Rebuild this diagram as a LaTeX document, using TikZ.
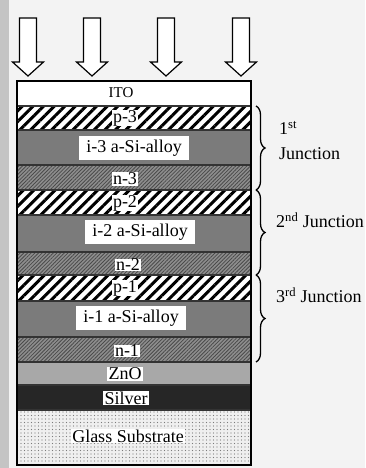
\documentclass[tikz,border=0pt]{standalone}
\usepackage{fontspec}
\setmainfont{Liberation Serif}
\usetikzlibrary{patterns.meta,decorations.pathreplacing}
\definecolor{bgc}{HTML}{F3F3F3}
\definecolor{edgec}{HTML}{C4C4C4}
\definecolor{igray}{HTML}{7B7B7B}
\definecolor{ngray}{HTML}{8E8E8E}
\definecolor{nline}{HTML}{4A4A4A}
\definecolor{zgray}{HTML}{A8A8A8}
\definecolor{silv}{HTML}{262626}
\definecolor{glass}{HTML}{EFEFEF}
\definecolor{dotc}{HTML}{7A7A7A}
\definecolor{sep}{HTML}{333333}
\begin{document}
\begin{tikzpicture}[x=1pt,y=-1pt,
  big/.style={font=\fontsize{18}{20}\selectfont},
  lbl/.style={big, fill=white, inner xsep=1.5pt, inner ysep=0.5pt},
  ilbl/.style={big, fill=white, inner xsep=7pt, inner ysep=4pt},
  plbl/.style={big, fill=white, inner xsep=1pt, inner ysep=0pt},
  player/.style={pattern={Lines[angle=45,distance=7.5pt,line width=3pt]}, pattern color=black},
  nlayer/.style={pattern={Lines[angle=45,distance=2.6pt,line width=0.8pt]}, pattern color=nline},
  glayer/.style={pattern={Dots[distance=3.5pt,radius=0.7pt]}, pattern color=dotc},
  sunarrow/.style={draw=black, line width=1.2pt, fill=white, line join=miter},
  jbrace/.style={decorate, decoration={brace, amplitude=9pt}, line width=1.3pt},
  jlbl/.style={big, anchor=west, inner sep=0pt}
]
\useasboundingbox (0,0) rectangle (365,468);
\fill[bgc] (0,0) rectangle (365,468);
\fill[edgec] (0,0) rectangle (9,468);

% incoming light arrows
\foreach \c in {28,92,166,241}{
  \draw[sunarrow] ({\c-8.5},18) -- ({\c+8.5},18) -- ({\c+8.5},62) -- ({\c+15.5},62)
     -- (\c,76) -- ({\c-15.5},62) -- ({\c-8.5},62) -- cycle;
}

% layers
\fill[white] (17,81) rectangle (251,106);
\fill[white] (17,106) rectangle (251,130);
\fill[player] (17,106) rectangle (251,130);
\fill[igray] (17,130) rectangle (251,165);
\fill[ngray] (17,165) rectangle (251,190);
\fill[nlayer] (17,165) rectangle (251,190);
\fill[white] (17,190) rectangle (251,215);
\fill[player] (17,190) rectangle (251,215);
\fill[igray] (17,215) rectangle (251,252);
\fill[ngray] (17,252) rectangle (251,275);
\fill[nlayer] (17,252) rectangle (251,275);
\fill[white] (17,275) rectangle (251,301);
\fill[player] (17,275) rectangle (251,301);
\fill[igray] (17,301) rectangle (251,337);
\fill[ngray] (17,337) rectangle (251,362);
\fill[nlayer] (17,337) rectangle (251,362);
\fill[zgray] (17,362) rectangle (251,385);
\fill[silv] (17,385) rectangle (251,410);
\fill[glass] (17,410) rectangle (251,465);
\fill[glayer] (17,410) rectangle (251,465);

\foreach \yy in {106,130,165,190,215,252,275,301,337,362,385,410}{
  \draw[sep, line width=1.4pt] (17,\yy) -- (251,\yy);
}
\draw[black, line width=2pt] (17,81) rectangle (251,465);

% labels
\node[big, font=\fontsize{15}{17}\selectfont, inner sep=0pt] (ito) at (121,93) {ITO};
\node[plbl] (p3) at (125,118) {p-3};
\node[ilbl] (i3) at (134,148) {i-3 a-Si-alloy};
\node[lbl] (n3) at (125,179) {n-3};
\node[plbl] (p2) at (125,203) {p-2};
\node[ilbl] (i2) at (140,232) {i-2 a-Si-alloy};
\node[lbl] (n2) at (128,265) {n-2};
\node[plbl] (p1) at (125,288) {p-1};
\node[ilbl] (i1) at (131,318) {i-1 a-Si-alloy};
\node[lbl] (n1) at (127,351) {n-1};
\node[lbl] (zno) at (125,374) {ZnO};
\node[lbl] (silver) at (126,398) {Silver};
\node[lbl] (glasslbl) at (128,436) {Glass Substrate};

% junction braces
\coordinate (b1t) at (256,106);
\coordinate (b1b) at (256,190);
\coordinate (b2t) at (256,190);
\coordinate (b2b) at (256,275);
\coordinate (b3t) at (256,275);
\coordinate (b3b) at (256,362);
\draw[jbrace] (b1t) -- (b1b);
\draw[jbrace] (b2t) -- (b2b);
\draw[jbrace] (b3t) -- (b3b);

\node[jlbl] (j1a) at (279,128) {1\textsuperscript{st}};
\node[jlbl] (j1b) at (279,154) {Junction};
\node[jlbl] (j2) at (276,220) {2\textsuperscript{nd} Junction};
\node[jlbl] (j3) at (276,295) {3\textsuperscript{rd} Junction};
\end{tikzpicture}
\end{document}
